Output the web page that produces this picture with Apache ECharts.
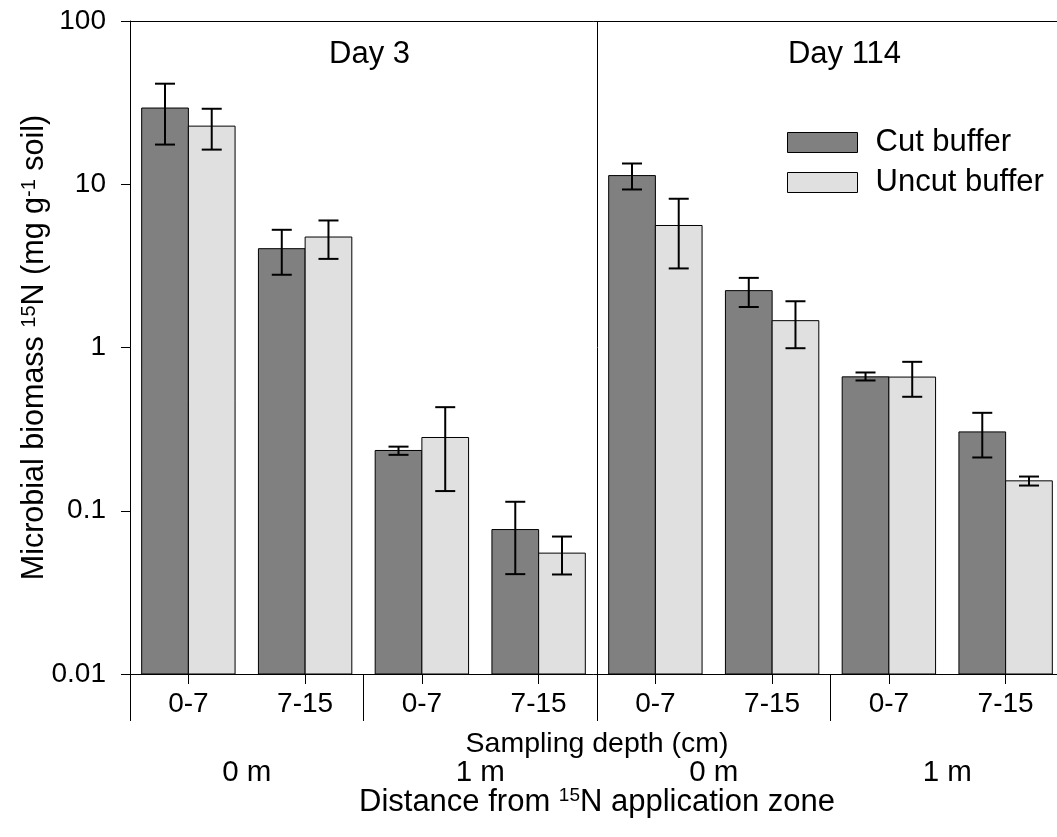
<!DOCTYPE html>
<html>
<head>
<meta charset="utf-8">
<script src="https://cdn.jsdelivr.net/npm/echarts@6/dist/echarts.min.js"></script>
<style>
  html, body { margin: 0; padding: 0; background: #fff; }
  #chart { width: 1057px; height: 837px; }
</style>
</head>
<body>
<div id="chart"></div>
<script>
// Sampling depth (cm) for each bar pair, grouped by distance and day
const depthLabels = ['0-7', '7-15', '0-7', '7-15', '0-7', '7-15', '0-7', '7-15'];
const distanceLabels = ['0 m', '1 m', '0 m', '1 m'];
const dayLabels = ['Day 3', 'Day 114'];
const yTickLabels = ['0.01', '0.1', '1', '10', '100'];

// Microbial biomass 15N (mg g-1 soil): means and error-bar ends
const cutMean  = [29.3, 4.03, 0.234, 0.0767, 11.3, 2.23, 0.661, 0.304];
const cutLow   = [17.5, 2.79, 0.220, 0.0409, 9.29, 1.77, 0.628, 0.212];
const cutHigh  = [41.3, 5.26, 0.247, 0.1135, 13.4, 2.67, 0.703, 0.398];
const uncutMean = [22.7, 4.75, 0.281, 0.0550, 5.59, 1.46, 0.659, 0.1525];
const uncutLow  = [16.3, 3.49, 0.132, 0.0407, 3.05, 0.99, 0.499, 0.1427];
const uncutHigh = [29.0, 6.00, 0.431, 0.0695, 8.15, 1.92, 0.817, 0.162];

const FONT = '"Liberation Sans", Arial, Helvetica, sans-serif';
const Y_MIN = 0.01;
const Y_MAX = 100;
const BAR_FRAC = 0.4;   // width of one bar as a share of a category band
const CAP_HALF = 10;    // half width of an error-bar cap
const CUT_COLOR = '#808080';
const UNCUT_COLOR = '#e0e0e0';

// Bars are drawn from the axis floor so they work on the log scale
function barItem(side, fill) {
  return function (params, api) {
    const i = api.value(0);
    const v = api.value(1);
    const w = api.size([1, 1])[0] * BAR_FRAC;
    const top = api.coord([i, v]);
    const base = api.coord([i, Y_MIN]);
    return {
      type: 'rect',
      shape: {
        x: side < 0 ? top[0] - w : top[0],
        y: top[1],
        width: w,
        height: base[1] - top[1]
      },
      style: { fill: fill, stroke: '#000', lineWidth: 1 }
    };
  };
}

function errorItem(side) {
  return function (params, api) {
    const i = api.value(0);
    const w = api.size([1, 1])[0] * BAR_FRAC;
    const lo = api.coord([i, api.value(1)]);
    const hi = api.coord([i, api.value(2)]);
    const x = lo[0] + side * w / 2;
    const st = { stroke: '#000', lineWidth: 2 };
    return {
      type: 'group',
      children: [
        { type: 'line', shape: { x1: x, y1: lo[1], x2: x, y2: hi[1] }, style: st },
        { type: 'line', shape: { x1: x - CAP_HALF, y1: lo[1], x2: x + CAP_HALF, y2: lo[1] }, style: st },
        { type: 'line', shape: { x1: x - CAP_HALF, y1: hi[1], x2: x + CAP_HALF, y2: hi[1] }, style: st }
      ]
    };
  };
}

const pairs = (arr) => arr.map((v, i) => [i, v]);
const ranges = (lo, hi) => lo.map((v, i) => [i, v, hi[i]]);

const black = { color: '#000', width: 1 };
const dayStyleKeys = ['d0', 'd1'];

const option = {
  animation: false,
  backgroundColor: '#fff',
  textStyle: { fontFamily: FONT, color: '#000' },
  grid: {
    left: 130, top: 21, right: -7, bottom: 163,
    containLabel: false,
    outerBoundsMode: 'none'
  },
  legend: {
    orient: 'vertical',
    left: 782,
    top: 122,
    itemWidth: 70,
    itemHeight: 20,
    itemGap: 9,
    selectedMode: false,
    textStyle: { fontFamily: FONT, fontSize: 31, lineHeight: 30, color: '#000', padding: [0, 0, 0, 13] },
    data: [
      { name: 'Cut buffer', icon: 'rect', itemStyle: { color: CUT_COLOR, borderColor: '#000', borderWidth: 1 } },
      { name: 'Uncut buffer', icon: 'rect', itemStyle: { color: UNCUT_COLOR, borderColor: '#000', borderWidth: 1 } }
    ]
  },
  xAxis: [
    {
      type: 'category',
      data: depthLabels,
      position: 'bottom',
      boundaryGap: true,
      axisLine: { show: true, lineStyle: black },
      axisTick: { show: true, alignWithLabel: true, length: 10, lineStyle: black },
      axisLabel: { fontFamily: FONT, fontSize: 28, lineHeight: 30, color: '#000', margin: 15, interval: 0 },
      splitLine: { show: false },
      name: 'Sampling depth (cm)',
      nameLocation: 'middle',
      nameGap: 55,
      nameMoveOverlap: false,
      nameTextStyle: { fontFamily: FONT, fontSize: 28.5, lineHeight: 30, color: '#000' }
    },
    {
      type: 'category',
      data: distanceLabels,
      position: 'bottom',
      offset: 0,
      boundaryGap: true,
      axisLine: { show: false },
      axisTick: { show: true, alignWithLabel: false, length: 47, lineStyle: black },
      axisLabel: { fontFamily: FONT, fontSize: 29.5, lineHeight: 30, color: '#000', margin: 84, interval: 0 },
      splitLine: { show: false },
      name: '{a|Distance from }{s|15}{a|N application zone}',
      nameLocation: 'middle',
      nameGap: 112,
      nameMoveOverlap: false,
      nameTextStyle: {
        fontFamily: FONT, fontSize: 31, color: '#000',
        rich: {
          a: { fontFamily: FONT, fontSize: 31, lineHeight: 32, color: '#000' },
          s: { fontFamily: FONT, fontSize: 19, lineHeight: 16, verticalAlign: 'top', color: '#000' }
        }
      }
    },
    {
      type: 'category',
      data: dayLabels,
      position: 'top',
      boundaryGap: true,
      axisLine: { show: true, lineStyle: black },
      axisTick: { show: false },
      axisLabel: {
        inside: true, fontFamily: FONT, fontSize: 31, lineHeight: 34, color: '#000', margin: 16, interval: 0,
        formatter: (label, idx) => '{' + dayStyleKeys[idx] + '|' + label + '}',
        rich: {
          d0: { fontFamily: FONT, fontSize: 31, lineHeight: 34, color: '#000', padding: [0, 0, 0, 12] },
          d1: { fontFamily: FONT, fontSize: 31, lineHeight: 34, color: '#000', padding: [0, 0, 0, 28] }
        }
      },
      splitLine: { show: true, lineStyle: black }
    }
  ],
  yAxis: {
    type: 'log',
    logBase: 10,
    min: Y_MIN,
    max: Y_MAX,
    axisLine: { show: true, lineStyle: black },
    axisTick: { show: true, inside: false, length: 9, lineStyle: black },
    minorTick: { show: false },
    splitLine: { show: false },
    axisLabel: {
      fontFamily: FONT, fontSize: 28, color: '#000', margin: 24,
      formatter: (v) => yTickLabels[Math.round(Math.log10(v / Y_MIN))] ?? ''
    },
    name: '{a|Microbial biomass }{s|15}{a|N (mg g}{s|-1}{a| soil)}',
    nameLocation: 'middle',
    nameRotate: 90,
    nameGap: 79,
    nameMoveOverlap: false,
    nameTextStyle: {
      fontFamily: FONT, fontSize: 30.5, color: '#000',
      rich: {
        a: { fontFamily: FONT, fontSize: 30.5, lineHeight: 32, color: '#000' },
        s: { fontFamily: FONT, fontSize: 20, lineHeight: 16, verticalAlign: 'top', color: '#000' }
      }
    }
  },
  series: [
    {
      name: 'Cut buffer', type: 'custom', xAxisIndex: 0, yAxisIndex: 0,
      itemStyle: { color: CUT_COLOR },
      encode: { x: 0, y: 1 },
      data: pairs(cutMean),
      renderItem: barItem(-1, CUT_COLOR),
      z: 2
    },
    {
      name: 'Uncut buffer', type: 'custom', xAxisIndex: 0, yAxisIndex: 0,
      itemStyle: { color: UNCUT_COLOR },
      encode: { x: 0, y: 1 },
      data: pairs(uncutMean),
      renderItem: barItem(1, UNCUT_COLOR),
      z: 2
    },
    {
      name: 'Cut buffer error', type: 'custom', xAxisIndex: 0, yAxisIndex: 0,
      encode: { x: 0, y: [1, 2] },
      data: ranges(cutLow, cutHigh),
      renderItem: errorItem(-1),
      z: 3
    },
    {
      name: 'Uncut buffer error', type: 'custom', xAxisIndex: 0, yAxisIndex: 0,
      encode: { x: 0, y: [1, 2] },
      data: ranges(uncutLow, uncutHigh),
      renderItem: errorItem(1),
      z: 3
    }
  ]
};

const chart = echarts.init(document.getElementById('chart'), null, { renderer: 'canvas' });
chart.setOption(option);
</script>
</body>
</html>
